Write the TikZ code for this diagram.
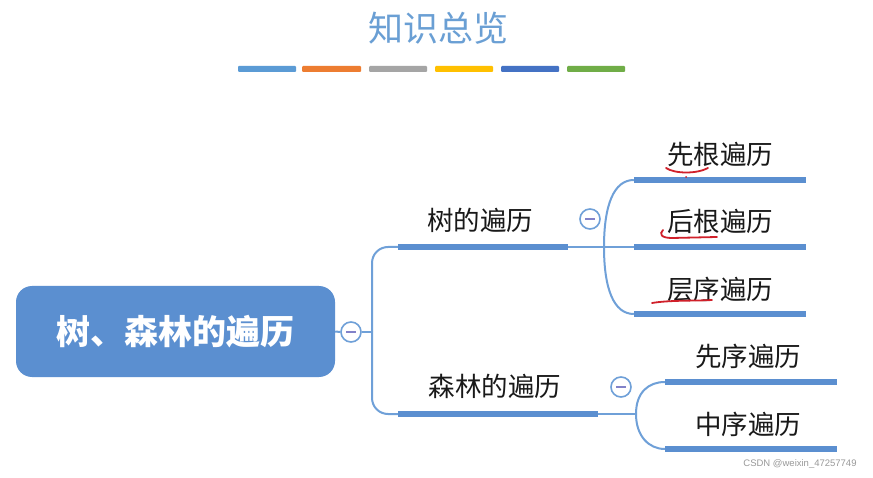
\documentclass[tikz,border=0pt]{standalone}
\usepackage{fontspec}
\setmainfont{Noto Sans CJK SC}
\newfontfamily\wmfont{Liberation Sans}
\definecolor{rootblue}{HTML}{5B8FD0}
\definecolor{linkblue}{HTML}{6FA0D8}
\definecolor{titleblue}{HTML}{6A9FD4}
\definecolor{barA}{HTML}{5B9BD5}
\definecolor{barB}{HTML}{ED7D31}
\definecolor{barC}{HTML}{A5A5A5}
\definecolor{barD}{HTML}{FFC000}
\definecolor{barE}{HTML}{4472C4}
\definecolor{barF}{HTML}{70AD47}
\definecolor{markred}{HTML}{D0202A}
\tikzset{
  titletext/.style={font=\fontsize{35}{38}\selectfont, text=titleblue, inner sep=0},
  colorbar/.style={rounded corners=1pt},
  rootbox/.style={fill=rootblue, rounded corners=16pt, minimum width=319pt, minimum height=91pt,
     text=white, font=\bfseries\fontsize{34}{38}\selectfont, inner sep=0},
  lbl/.style={font=\fontsize{26.5}{30}\selectfont, text=black!90, inner sep=0},
  hbar/.style={fill=rootblue, minimum height=6pt, inner sep=0, draw=none},
  conn/.style={draw=linkblue, line width=2pt},
  toggle/.style={circle, draw=linkblue, line width=1.6pt, fill=white, minimum size=20pt, inner sep=0,
     path picture={\draw[draw=gray!60!blue!70, line width=1.6pt] ([xshift=-5pt]path picture bounding box.center) -- ([xshift=5pt]path picture bounding box.center);}},
  redmark/.style={draw=markred, line width=1.8pt, line cap=round},
  wm/.style={font=\wmfont\fontsize{9.5}{11}\selectfont, text=gray!80, inner sep=0}
}
\begin{document}
\begin{tikzpicture}[x=1pt,y=-1pt]
\useasboundingbox (0,0) rectangle (873,478);
\fill[white] (0,0) rectangle (873,478);
% title
\node[titletext] (title) at (438,28) {知识总览};
% colour bars
\fill[colorbar, barA] (238,66) rectangle (296,72);
\fill[colorbar, barB] (302,66) rectangle (361,72);
\fill[colorbar, barC] (369,66) rectangle (427,72);
\fill[colorbar, barD] (435,66) rectangle (493,72);
\fill[colorbar, barE] (501,66) rectangle (559,72);
\fill[colorbar, barF] (567,66) rectangle (625,72);
% root
\node[rootbox] (root) at (175.5,331.5) {树、森林的遍历};
\node[toggle] (c0) at (351,332) {};
\coordinate (v) at (372,332);
\draw[conn] (root.east) -- (c0.west);
\draw[conn] (c0.east) -- (v);
% branch 1
\node[hbar, minimum width=170pt] (b1) at (483,247) {};
\node[lbl] (t1) at (480,220) {树的遍历};
\draw[conn, rounded corners=16pt] (v) |- (b1.west);
\node[toggle] (c1) at (590,219) {};
\coordinate (j1) at (604,247);
\draw[conn] (b1.east) -- (j1);
% leaves of branch 1
\node[hbar, minimum width=172pt] (l1) at (720,180) {};
\node[hbar, minimum width=172pt] (l2) at (720,247) {};
\node[hbar, minimum width=172pt] (l3) at (720,314) {};
\node[lbl] (tl1) at (720,154) {先根遍历};
\node[lbl] (tl2) at (720,221) {后根遍历};
\node[lbl] (tl3) at (720,289) {层序遍历};
\draw[conn] (j1) .. controls +(0,-42) and +(-20,0) .. (l1.west);
\draw[conn] (j1) -- (l2.west);
\draw[conn] (j1) .. controls +(0,42) and +(-20,0) .. (l3.west);
% branch 2
\node[hbar, minimum width=200pt] (b2) at (498,414) {};
\node[lbl] (t2) at (495,386) {森林的遍历};
\draw[conn, rounded corners=16pt] (v) |- (b2.west);
\node[toggle] (c2) at (621,387) {};
\coordinate (j2) at (636,414);
\draw[conn] (b2.east) -- (j2);
\node[hbar, minimum width=172pt] (m1) at (751,382) {};
\node[hbar, minimum width=172pt] (m2) at (751,449) {};
\node[lbl] (tm1) at (748,356) {先序遍历};
\node[lbl] (tm2) at (748,424) {中序遍历};
\draw[conn] (j2) .. controls +(0,-22) and +(-16,0) .. (m1.west);
\draw[conn] (j2) .. controls +(0,22) and +(-16,0) .. (m2.west);
% red hand marks
\draw[redmark] (666,168) .. controls (675,174) and (697,174) .. (708,168);
\fill[markred] (686,177) circle (1pt);
\draw[redmark] (663,230) .. controls (659,234) and (661,238) .. (672,238) -- (717,237);
\draw[redmark] (652,303) .. controls (670,300) and (695,301) .. (712,300);
% watermark
\node[wm] (wmark) at (800,464) {CSDN @weixin\_47257749};
\end{tikzpicture}
\end{document}
